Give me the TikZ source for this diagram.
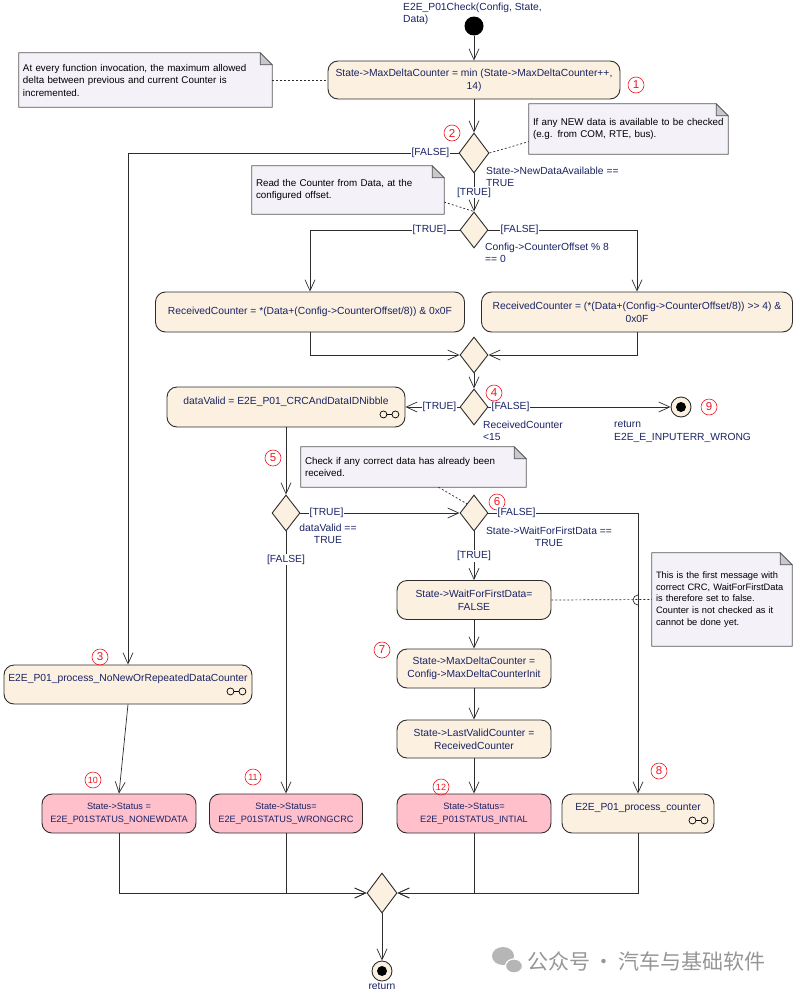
\documentclass[tikz,border=0pt]{standalone}
\usepackage{fontspec}
\setmainfont{Liberation Sans}
\newfontfamily\cjkfont{Noto Sans CJK SC}
\usepackage{tikz}
\usetikzlibrary{shapes.geometric,arrows.meta,positioning,backgrounds,calc}
\definecolor{ActFill}{RGB}{252,240,224}
\definecolor{PinkFill}{RGB}{255,192,203}
\definecolor{NoteFill}{RGB}{244,242,248}
\definecolor{NoteFold}{RGB}{200,200,206}
\definecolor{NavyText}{RGB}{25,35,100}
\definecolor{EdgeGray}{RGB}{45,45,45}
\definecolor{StepRed}{RGB}{240,20,30}
\definecolor{MarkGray}{RGB}{150,150,150}

\begin{document}
\begin{tikzpicture}[
  x=1pt, y=-1pt,
  font=\fontsize{10.3}{12.8}\selectfont,
  action/.style={rectangle, rounded corners=10pt, draw=EdgeGray, line width=0.9pt, fill=ActFill, text=NavyText, align=center, inner sep=2pt},
  status/.style={action, fill=PinkFill, font=\fontsize{9.2}{12.5}\selectfont},
  choice/.style={diamond, draw=EdgeGray, line width=0.9pt, fill=ActFill, inner sep=0pt, minimum width=28pt, minimum height=36pt},
  memo/.style={rectangle, text width=#1, align=left, inner xsep=4pt, inner ysep=2pt, font=\fontsize{9.8}{12.5}\selectfont},
  memoline/.style={draw=EdgeGray!80, line width=0.8pt, fill=NoteFill},
  foldline/.style={draw=EdgeGray!80, line width=0.8pt, fill=NoteFold},
  guard/.style={text=NavyText, inner sep=0pt, align=left},
  lbl/.style={fill=white, text=NavyText, inner sep=1pt},
  num/.style={circle, draw=StepRed, text=StepRed, line width=0.6pt, inner sep=0pt, minimum size=16pt, font=\fontsize{11.5}{11.5}\selectfont},
  numw/.style={num, font=\fontsize{9}{9}\selectfont},
  startnode/.style={circle, fill=black, minimum size=19pt, inner sep=0pt},
  endnode/.style={circle, draw=EdgeGray, fill=ActFill, line width=0.9pt, minimum size=20pt, inner sep=0pt,
    path picture={\fill[black] (path picture bounding box.center) circle (5pt);}},
  flow/.style={draw=EdgeGray, line width=0.7pt, -{Straight Barb[length=11pt,width=10pt]}},
  plain/.style={draw=EdgeGray, line width=0.7pt},
  link/.style={draw=EdgeGray, line width=0.7pt, dash pattern=on 2pt off 2pt},
  rake/.pic={\draw[line width=0.7pt] (-6,0) circle (3.5pt) (6,0) circle (3.5pt) (-2.5,0) -- (2.5,0);}
]
\useasboundingbox (0,0) rectangle (802,993);

% Start
\node[startnode] (init) at (474,26) {};
\node[guard, anchor=north west] (title) at (403,2.5) {E2E\_P01Check(Config, State,\\Data)};

% Step 1
\node[action, minimum width=292pt, minimum height=38pt] (b1) at (474,80) {State->MaxDeltaCounter = min (State->MaxDeltaCounter++,\\14)};

% Decisions
\node[choice, minimum width=30pt, minimum height=40pt] (d2) at (474,153) {};
\node[choice] (d3) at (474,230) {};
\node[choice] (m1) at (474,355) {};
\node[choice] (d4) at (474,407) {};
\node[choice] (d5) at (286,513) {};
\node[choice] (d6) at (474,513) {};
\node[choice, minimum width=30pt, minimum height=40pt] (m2) at (382,893) {};

% Actions
\node[action, minimum width=309pt, minimum height=40pt] (bA) at (310,312) {ReceivedCounter = *(Data+(Config->CounterOffset/8)) \& 0x0F};
\node[action, minimum width=311pt, minimum height=40pt] (bB) at (637,312) {ReceivedCounter = (*(Data+(Config->CounterOffset/8)) >{}> 4) \&\\0x0F};
\node[action, minimum width=238pt, minimum height=40pt] (bC) at (286,407) {dataValid = E2E\_P01\_CRCAndDataIDNibble\\\mbox{}};
\node[action, minimum width=154pt, minimum height=39pt] (bD) at (474,600) {State->WaitForFirstData=\\FALSE};
\node[action, minimum width=154pt, minimum height=39pt] (bE) at (474,668.5) {State->MaxDeltaCounter =\\Config->MaxDeltaCounterInit};
\node[action, minimum width=154pt, minimum height=38pt] (bF) at (474,739) {State->LastValidCounter =\\ReceivedCounter};
\node[action, minimum width=248pt, minimum height=39pt] (b3) at (128,684.5) {E2E\_P01\_process\_NoNewOrRepeatedDataCounter\\\mbox{}};
\node[action, minimum width=152pt, minimum height=39pt] (b8) at (638,813.5) {E2E\_P01\_process\_counter\\\mbox{}};

% Status results
\node[status, minimum width=154pt, minimum height=39pt] (b10) at (119,813.5) {State->Status =\\E2E\_P01STATUS\_NONEWDATA};
\node[status, minimum width=153pt, minimum height=39pt] (b11) at (286,813.5) {State->Status=\\E2E\_P01STATUS\_WRONGCRC};
\node[status, minimum width=154pt, minimum height=39pt] (b12) at (474,813.5) {State->Status=\\E2E\_P01STATUS\_INTIAL};

% Final nodes
\node[endnode] (f9) at (681,407) {};
\node[endnode] (fret) at (382,971) {};
\node[guard, anchor=north west] (ret9) at (614,420.5) {return\\E2E\_E\_INPUTERR\_WRONG};
\node[guard, anchor=north, align=center] (retlbl) at (382,982.5) {return};

% Notes
\node[memo=245pt, minimum height=54pt] (n1) at (145.5,80) {At every function invocation, the maximum allowed\\delta between previous and current Counter is\\incremented.};
\node[memo=191pt, minimum height=50pt] (n2) at (628.5,129) {If any NEW data is available to be checked\\(e.g. from COM, RTE, bus).};
\node[memo=184pt, minimum height=48pt] (n3) at (348,190) {Read the Counter from Data, at the\\configured offset.};
\node[memo=217pt, minimum height=40pt] (n4) at (413.5,467) {Check if any correct data has already been\\received.};
\node[memo=132pt, minimum height=93pt, font=\fontsize{9.3}{11.8}\selectfont] (n5) at (722,599.5) {This is the first message with\\correct CRC, WaitForFirstData\\is therefore set to false.\\Counter is not checked as it\\cannot be done yet.};

\begin{scope}[on background layer]
  \foreach \n in {n1,n2,n3,n4,n5} {
    \filldraw[memoline] (\n.south west) -- (\n.south east) -- ([yshift=-12pt]\n.north east)
      -- ([xshift=-12pt]\n.north east) -- (\n.north west) -- cycle;
    \filldraw[foldline] ([xshift=-12pt]\n.north east) -- ([xshift=-12pt,yshift=-12pt]\n.north east)
      -- ([yshift=-12pt]\n.north east) -- cycle;
  }
\end{scope}

% Guards
\node[guard, anchor=north west] (g2) at (486,166.5) {State->NewDataAvailable ==\\TRUE};
\node[guard, anchor=north west] (g3) at (485,242.5) {Config->CounterOffset \% 8\\== 0};
\node[guard, anchor=north west] (g4) at (483,420.5) {ReceivedCounter\\<15};
\node[guard, anchor=north, align=center] (g5) at (328,523.5) {dataValid ==\\TRUE};
\node[guard, anchor=north, align=center] (g6) at (549,526.5) {State->WaitForFirstData ==\\TRUE};

% Step numbers
\node[num] (s1) at (636,85) {1};
\node[num] (s2) at (452,133) {2};
\node[num] (s3) at (100,657) {3};
\node[num] (s4) at (494,393) {4};
\node[num] (s5) at (273,458) {5};
\node[num] (s6) at (497,502) {6};
\node[num] (s7) at (382,650) {7};
\node[num] (s8) at (659,771) {8};
\node[num] (s9) at (709,407) {9};
\node[numw] (s10) at (93,780) {10};
\node[numw] (s11) at (253,777) {11};
\node[numw] (s12) at (441,787) {12};

% Flow
\draw[flow] (init) -- (b1);
\draw[flow] (b1) -- (d2);
\draw[flow] (d2.west) -| (b3.north);
\draw[flow] (d2.south) -- (d3.north);
\draw[flow] (d3.west) -| (bA.north);
\draw[flow] (d3.east) -| (bB.north);
\draw[flow] (bA.south) |- (m1.west);
\draw[flow] (bB.south) |- (m1.east);
\draw[flow] (m1.south) -- (d4.north);
\draw[flow] (d4.west) -- (bC.east);
\draw[flow] (d4.east) -- (f9);
\draw[flow] (bC.south) -- (d5.north);
\draw[flow] (d5.east) -- (d6.west);
\draw[flow] (d5.south) -- (b11.north);
\draw[flow] (d6.south) -- (bD.north);
\draw[flow] (d6.east) -| (b8.north);
\draw[flow] (bD) -- (bE);
\draw[flow] (bE) -- (bF);
\draw[flow] (bF) -- (b12);
\draw[flow] (b3.south) -- (b10.north);

% Join
\draw[flow] (b10.south) |- (m2.west);
\draw[flow] (b11.south) |- (m2.west);
\draw[flow] (b12.south) |- (m2.east);
\draw[flow] (b8.south) |- (m2.east);
\draw[flow] (m2.south) -- (fret);

% Note links
\draw[link] (n1.east) -- (b1.west);
\draw[link] (d2.east) -- ($(n2.west)!0.5!(n2.south west)$);
\draw[link] ($(n3.east)!0.5!(n3.south east)$) -- (d3.north);
\draw[link] ([xshift=25pt]n4.south) -- (d6.north west);
\coordinate (hop) at (b8.north |- bD.east);
\draw[link] (bD.east) -- (n5.west);
\draw[plain] ([yshift=5pt]hop) arc (90:270:5pt);

% Edge labels
\node[lbl, left=8pt of d2.west] (l2f) {[FALSE]};
\node[lbl] (l2t) at ($(d2.south)!0.5!(d3.north)$) {[TRUE]};
\node[lbl, left=12pt of d3.west] (l3t) {[TRUE]};
\node[lbl, right=11pt of d3.east] (l3f) {[FALSE]};
\node[lbl, left=2pt of d4.west] (l4t) {[TRUE]};
\node[lbl, right=2pt of d4.east] (l4f) {[FALSE]};
\node[lbl, right=8pt of d5.east] (l5t) {[TRUE]};
\node[lbl, below=22pt of d5.south] (l5f) {[FALSE]};
\node[lbl, right=8pt of d6.east] (l6f) {[FALSE]};
\node[lbl] (l6t) at ($(d6.south)!0.5!(bD.north)$) {[TRUE]};

% Call behaviour marks
\foreach \b in {bC,b3,b8} {
  \pic at ([xshift=-16pt,yshift=13pt]\b.south east) {rake};
}

% Watermark
\fill[MarkGray!70] (503,956) ellipse (11pt and 9pt);
\filldraw[fill=MarkGray!70, draw=white, line width=1.2pt] (514,966) ellipse (8.5pt and 7pt);
\node[text=MarkGray, font=\cjkfont\fontsize{21}{21}\selectfont, anchor=west, inner sep=0pt] (wm) at (527,961) {公众号\,·\,汽车与基础软件};

\end{tikzpicture}
\end{document}
